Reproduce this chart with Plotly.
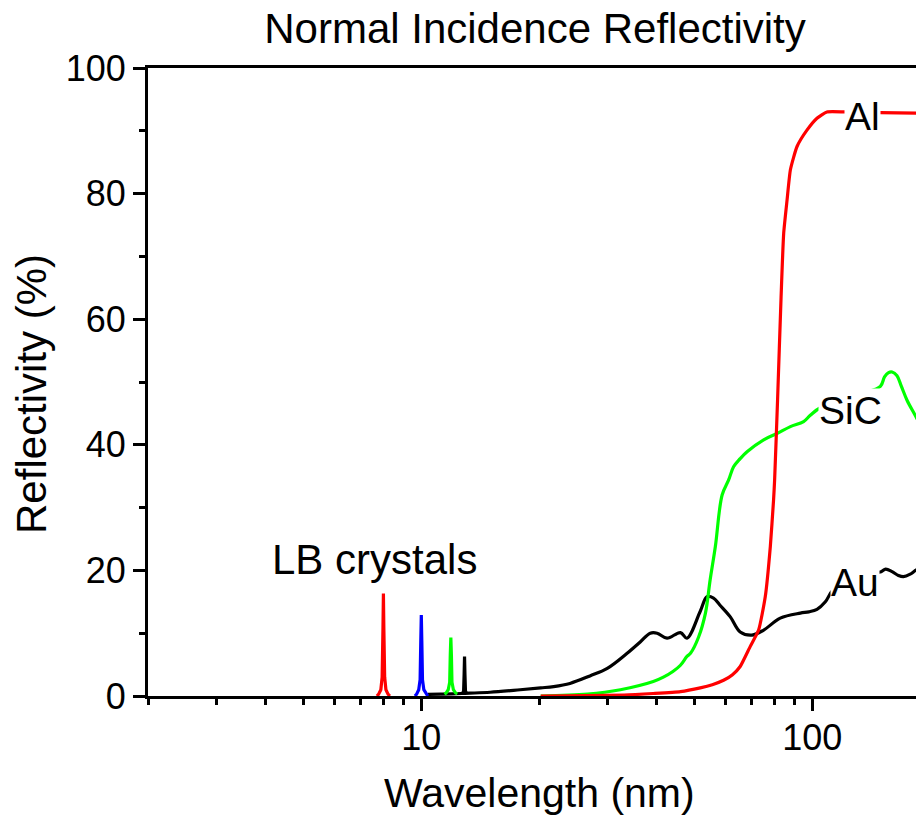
import numpy as np
import plotly.graph_objects as go

# Reflectivity curves (wavelength in nm, reflectivity in %)
au_wl = [10.4, 11.2, 12.0, 12.7, 13.3, 15.0, 17.9, 20.2, 21.8, 24.0, 27.0, 29.9,
         33.6, 36.3, 38.5, 40.1, 42.5, 46.0, 47.8, 51.7, 53.8, 55.9, 58.0, 61.7,
         65.4, 70.1, 75.1, 82.8, 93.2, 98.0, 102.8, 108.0, 113.0, 125.0, 140.0,
         150.0, 154.0, 160.0, 166.0, 171.0, 178.0, 185.0, 195.0]
au_r = [0.25, 0.3, 0.35, 0.4, 0.45, 0.6, 1.0, 1.3, 1.5, 2.0, 3.2, 4.4,
        6.8, 8.6, 10.0, 10.0, 9.2, 10.1, 9.2, 13.5, 15.8, 15.6, 14.5, 12.6,
        10.2, 9.7, 10.5, 12.4, 13.2, 13.4, 13.8, 15.0, 16.9, 18.5, 19.5,
        19.8, 20.2, 19.8, 19.2, 19.0, 19.4, 20.1, 20.4]

sic_wl = [20.2, 26.6, 32.3, 39.2, 41.6, 44.0, 46.0, 47.8, 48.8, 51.2, 53.3, 54.8,
          56.5, 58.8, 61.1, 62.9, 65.4, 68.1, 75.1, 81.2, 87.9, 95.0, 98.8, 104.8,
          120.0, 135.0, 149.3, 153.0, 156.7, 160.0, 164.7, 169.0, 174.7, 184.0, 195.0]
sic_r = [0.0, 0.3, 1.0, 2.3, 3.0, 3.9, 4.9, 6.3, 6.8, 9.4, 13.2, 18.5,
         23.8, 32.0, 34.4, 36.5, 37.8, 38.9, 40.8, 41.8, 42.9, 43.7, 44.7, 45.9,
         47.0, 48.2, 49.3, 50.8, 51.5, 51.6, 51.0, 49.3, 47.1, 44.5, 41.5]

al_wl = [20.2, 26.6, 33.0, 39.2, 46.0, 51.7, 55.5, 59.3, 62.5, 65.4, 69.4, 72.9,
         75.8, 78.1, 79.6, 80.1, 81.5, 83.2, 84.5, 86.2, 87.9, 91.4, 96.9, 102.8,
         109.0, 121.4, 149.3, 184.5, 195.0]
al_r = [0.0, 0.05, 0.15, 0.4, 0.7, 1.3, 1.8, 2.5, 3.4, 4.7, 7.9, 10.5,
        15.8, 23.8, 31.2, 34.4, 47.1, 63.5, 73.7, 79.0, 83.8, 87.5, 90.1, 92.0,
        93.0, 93.0, 92.9, 92.8, 92.7]

# LB crystal Bragg peaks
lb_red_wl = [7.70, 7.78, 7.88, 7.94, 7.98, 8.0, 8.02, 8.06, 8.12, 8.22, 8.31]
lb_red_r = [0.0, 0.3, 1.0, 3.0, 11.0, 16.3, 11.0, 3.0, 1.0, 0.3, 0.0]
lb_blue_wl = [9.63, 9.73, 9.85, 9.93, 9.97, 10.0, 10.03, 10.07, 10.15, 10.28, 10.39]
lb_blue_r = [0.0, 0.3, 1.0, 2.6, 8.8, 12.9, 8.8, 2.6, 1.0, 0.3, 0.0]
lb_green_wl = [11.46, 11.58, 11.72, 11.82, 11.86, 11.9, 11.94, 11.98, 12.08, 12.23, 12.36]
lb_green_r = [0.3, 0.5, 1.0, 2.2, 6.5, 9.3, 6.5, 2.2, 1.0, 0.5, 0.35]
lb_black_wl = [12.75, 12.83, 12.87, 12.9, 12.93, 12.97, 13.05]
lb_black_r = [0.4, 0.8, 3.5, 6.3, 3.5, 0.8, 0.45]

x_major = [10, 100]
x_minor = [2, 3, 4, 5, 6, 7, 8, 9, 20, 30, 40, 50, 60, 70, 80, 90, 200]

FONT = "Liberation Sans, Arial, sans-serif"
LW = 3.2

fig = go.Figure()

def add_line(x, y, color, shape="linear", smoothing=1.0):
    fig.add_trace(go.Scatter(x=x, y=y, mode="lines",
                             line=dict(color=color, width=LW, shape=shape,
                                       smoothing=smoothing),
                             hoverinfo="skip", showlegend=False))

add_line(au_wl, au_r, "#000000", "spline")
add_line(lb_black_wl, lb_black_r, "#000000")
add_line(sic_wl, sic_r, "#00FF00", "spline")
add_line(al_wl, al_r, "#FF0000", "spline", 0.5)
add_line(lb_red_wl, lb_red_r, "#FF0000")
add_line(lb_blue_wl, lb_blue_r, "#0000FF")
add_line(lb_green_wl, lb_green_r, "#00FF00")

labels = [
    ("Al", 134.3, 92.2, True),
    ("SiC", 125.0, 45.5, True),
    ("Au", 128.8, 18.0, True),
    ("LB crystals", 7.58, 21.7, False),
]
for text, lx, ly, boxed in labels:
    fig.add_annotation(x=np.log10(lx), y=ly, xref="x", yref="y", text=text,
                       showarrow=False, xanchor="center", yanchor="middle",
                       bgcolor="white" if boxed else "rgba(0,0,0,0)",
                       borderpad=0,
                       font=dict(family=FONT, size=42 if not boxed else 39,
                                 color="black"))

# axis titles
fig.add_annotation(x=0.5104, y=-0.155, xref="paper", yref="paper",
                   xanchor="center", yanchor="middle",
                   text="Wavelength (nm)", showarrow=False,
                   font=dict(family=FONT, size=41, color="black"))
fig.add_annotation(x=-0.151, y=0.481, xref="paper", yref="paper",
                   xanchor="center", yanchor="middle",
                   text="Reflectivity (%)", showarrow=False, textangle=-90,
                   font=dict(family=FONT, size=42, color="black"))

fig.update_layout(
    width=916, height=818,
    margin=dict(l=148, r=0, t=68, b=122),
    paper_bgcolor="white", plot_bgcolor="white",
    title=dict(text="Normal Incidence Reflectivity", x=535 / 916, xanchor="center",
               y=1 - 28 / 818, yanchor="middle",
               font=dict(family=FONT, size=42, color="black")),
    font=dict(family=FONT, color="black"),
)

fig.update_xaxes(
    type="log", range=[np.log10(2), np.log10(2) + 768 / 391],
    tickvals=x_major, ticktext=[str(v) for v in x_major],
    ticks="outside", ticklen=12, tickwidth=2.7, tickcolor="black",
    ticklabelstandoff=-4,
    minor=dict(tickvals=x_minor, ticks="outside", ticklen=6, tickwidth=2.7,
               tickcolor="black", showgrid=False),
    showline=True, linecolor="black", linewidth=2.8, mirror=True,
    showgrid=False, zeroline=False,
    tickfont=dict(family=FONT, size=36, color="black"),
)
fig.update_yaxes(
    range=[0, 100], tickvals=[0, 20, 40, 60, 80, 100],
    ticks="outside", ticklen=12, tickwidth=2.7, tickcolor="black",
    minor=dict(tickvals=[10, 30, 50, 70, 90], ticks="outside", ticklen=6,
               tickwidth=2.7, tickcolor="black", showgrid=False),
    showline=True, linecolor="black", linewidth=2.8,
    showgrid=False, zeroline=False,
    tickfont=dict(family=FONT, size=36, color="black"),
)

fig.write_html("out.html")
